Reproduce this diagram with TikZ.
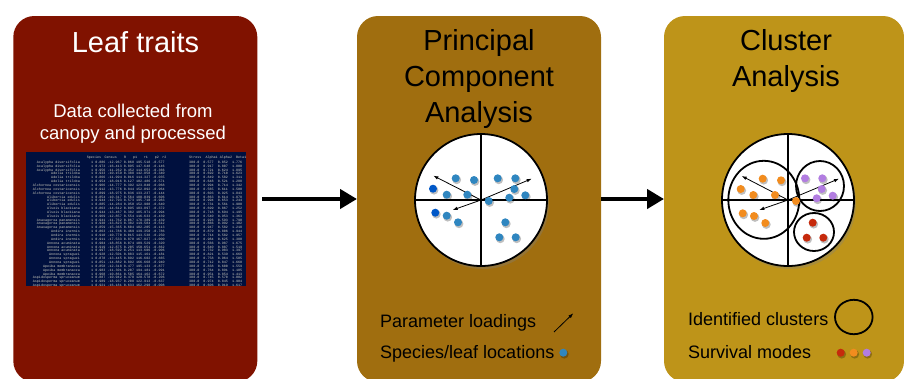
\documentclass[tikz,border=0pt]{standalone}
\usepackage{fontspec}
\setmainfont{Liberation Sans}
\newfontfamily\tabfont{Liberation Mono}
\usetikzlibrary{arrows.meta,shadows}

\definecolor{leafred}{RGB}{128,18,0}
\definecolor{pcabrown}{RGB}{160,110,15}
\definecolor{clustergold}{RGB}{190,148,25}
\definecolor{tablenavy}{RGB}{0,16,62}
\definecolor{tabletext}{RGB}{205,205,190}
\definecolor{ptblue}{RGB}{47,134,192}
\definecolor{ptdark}{RGB}{0,88,200}
\definecolor{ptorange}{RGB}{242,140,30}
\definecolor{ptpurple}{RGB}{178,125,225}
\definecolor{ptred}{RGB}{198,42,12}

\tikzset{
  stage/.style={rectangle, rounded corners=21pt, inner sep=0pt, outer sep=0pt, minimum height=366pt},
  title/.style={font=\fontsize{29}{36}\selectfont, align=center, anchor=base, inner sep=0pt},
  legend/.style={font=\fontsize{18}{22}\selectfont, anchor=base west, inner sep=0pt},
  plot/.style={circle, draw=black, line width=1.8pt, fill=white, minimum size=132pt, inner sep=0pt, outer sep=0pt,
    drop shadow={opacity=0.35, shadow xshift=2pt, shadow yshift=-3pt}},
  axis/.style={line width=1.8pt},
  flow/.style={line width=4.6pt, -{Triangle[length=17pt,width=19pt]}},
  loading/.style={line width=0.8pt, -{Latex[length=5pt,width=3.6pt]}},
  cluster/.style={draw=black, line width=1.8pt},
  tabrow/.style={font=\tabfont\fontsize{3.4}{4}\selectfont, text=tabletext, inner sep=0pt},
}

% dot with a soft shadow
\newcommand{\plotdot}[3]{%
  \fill[black, opacity=0.25] (#1+1,#2+1.5) circle (4.4);
  \fill[#3] (#1,#2) circle (4);}

\begin{document}
\begin{tikzpicture}[x=1pt, y=-1pt]
  \useasboundingbox (0,0) rectangle (904,378);

  % Stages
  \node[stage, fill=leafred, minimum width=244pt] (leaf) at (135.3,199) {};
  \node[stage, fill=pcabrown, minimum width=244pt] (pca) at (479,199) {};
  \node[stage, fill=clustergold, minimum width=240pt] (cluster) at (784,199) {};

  \draw[flow] ([xshift=5pt]leaf.east) -- (pca.west);
  \draw[flow] (pca.east) -- (cluster.west);

  % Leaf traits (base anchor = last line)
  \node[title, text=white] (leaftitle) at (135.5,52) {Leaf traits};
  \node[font=\fontsize{18.5}{22}\selectfont, text=white, align=center, anchor=base, inner sep=0pt]
    (leafnote) at (133,139) {Data collected from\\canopy and processed};

  \fill[tablenavy] (26,152) rectangle (246,286);
  \begin{scope}
    \clip (26,152) rectangle (246,286);
    \pgfkeys{/pgf/number format/.cd, fixed, fixed zerofill, precision=3, assume math mode=true}
    \pgfmathsetseed{42}
    \node[tabrow, anchor=base east] (tabhead) at (117,158) {Species\quad Census};
    \node[tabrow, anchor=base west] (tabcols) at (124,158) {R\qquad p1\qquad r1\qquad p2\quad r2};
    \node[tabrow, anchor=base west] (tabparm) at (189,158) {Stress\ \ Alpha1\ Alpha2\ \ Beta1};
    \foreach \sp [count=\i] in {Acalypha diversifolia, Acalypha diversifolia, Acalypha diversifolia,
        Adelia triloba, Adelia triloba, Adelia triloba,
        Alchornea costaricensis, Alchornea costaricensis, Alchornea costaricensis,
        Alibertia edulis, Alibertia edulis, Alibertia edulis,
        Alseis blackiana, Alseis blackiana, Alseis blackiana,
        Anaxagorea panamensis, Anaxagorea panamensis, Anaxagorea panamensis,
        Andira inermis, Andira inermis, Andira inermis,
        Annona acuminata, Annona acuminata, Annona acuminata,
        Annona spraguei, Annona spraguei, Annona spraguei,
        Apeiba membranacea, Apeiba membranacea, Apeiba membranacea,
        Aspidosperma spruceanum, Aspidosperma spruceanum, Aspidosperma spruceanum} {
      \pgfmathsetmacro\rowy{159.5+3.85*\i}
      \pgfmathsetmacro\va{0.85+0.15*rnd}
      \pgfmathsetmacro\vb{-10-9*rnd}
      \pgfmathsetmacro\vc{rnd}
      \pgfmathsetmacro\vd{100+99*rnd}
      \pgfmathsetmacro\ve{-rnd}
      \pgfmathsetmacro\vf{0.5+0.5*rnd}
      \pgfmathsetmacro\vg{0.5+0.5*rnd}
      \pgfmathsetmacro\vh{1+rnd}
      \node[tabrow, anchor=base east] (sp\i) at (80,\rowy) {\sp};
      \node[tabrow, anchor=base west] (mid\i) at (91,\rowy)
        {1\ \pgfmathprintnumber{\va}\ \pgfmathprintnumber{\vb}\ \pgfmathprintnumber{\vc}\ \pgfmathprintnumber{\vd}\ \pgfmathprintnumber{\ve}};
      \node[tabrow, anchor=base west] (rgt\i) at (189,\rowy)
        {300.0\ \ \pgfmathprintnumber{\vf}\ \ \pgfmathprintnumber{\vg}\ \ \pgfmathprintnumber{\vh}};
    }
  \end{scope}

  % Principal component analysis
  \node[title] (pcatitle) at (479,122) {Principal\\Component\\Analysis};
  \node[plot] (pcaplot) at (481,200) {};
  \draw[axis] (pcaplot.north) -- (pcaplot.south);
  \draw[axis] (pcaplot.west) -- (pcaplot.east);
  \coordinate (pl1) at (433.3,175.7);
  \coordinate (pl2) at (531.7,178.7);
  \coordinate (pl3) at (452.7,210);
  \foreach \c in {pl1,pl2,pl3} \draw[loading] (pcaplot.center) -- (\c);
  \foreach \x/\y in {455.7/178.3, 474/180, 446.7/194.7, 467.3/194.7, 446.7/215.7, 458/222.3,
      497.7/178.3, 515.3/178.3, 514.3/189, 509.3/197.7, 525.3/195.3, 488.7/201,
      505.3/222.3, 499.3/237.3, 515.7/237.3}
    \plotdot{\x}{\y}{ptblue};
  \foreach \x/\y in {433/188.7, 435.3/212.7} \plotdot{\x}{\y}{ptdark};

  \node[legend] (loadkey) at (380,327) {Parameter loadings};
  \coordinate (loadtail) at (554,332);
  \coordinate (loadhead) at (573.3,313.3);
  \draw[loading] (loadtail) -- (loadhead);
  \node[legend] (spotkey) at (380,358) {Species/leaf locations};
  \plotdot{563.3}{352.7}{ptblue};

  % Cluster analysis
  \node[title] (clustertitle) at (786,86) {Cluster\\Analysis};
  \node[plot] (clusterplot) at (788,200) {};
  \draw[axis] (clusterplot.north) -- (clusterplot.south);
  \draw[axis] (clusterplot.west) -- (clusterplot.east);
  \draw[cluster] (763.8,199.8) ellipse [x radius=35.5, y radius=39];
  \draw[cluster] (820,186) ellipse [x radius=24, y radius=25];
  \draw[cluster] (814,232) ellipse [x radius=20, y radius=19];
  \coordinate (cl1) at (741.7,176);
  \coordinate (cl2) at (839,178.7);
  \coordinate (cl3) at (759.3,210);
  \foreach \c in {cl1,cl2,cl3} \draw[loading] (clusterplot.center) -- (\c);
  \foreach \x/\y in {740.7/189, 762.7/178.7, 781/180.3, 753.3/195, 775/195,
      742.7/213.3, 754/216, 765.3/223, 796/201}
    \plotdot{\x}{\y}{ptorange};
  \foreach \x/\y in {805/178.3, 822.3/178.3, 821.7/189, 816.7/198.3, 832.7/195.7}
    \plotdot{\x}{\y}{ptpurple};
  \foreach \x/\y in {812.7/222.7, 806.7/237.7, 823.3/237.7}
    \plotdot{\x}{\y}{ptred};

  \node[legend] (clusterkey) at (688,325) {Identified clusters};
  \draw[cluster] (853.8,317) ellipse [x radius=18.8, y radius=17.2];
  \node[legend] (modekey) at (688,358) {Survival modes};
  \plotdot{840.7}{352.7}{ptred};
  \plotdot{853.7}{352.7}{ptorange};
  \plotdot{866.7}{352.7}{ptpurple};
\end{tikzpicture}
\end{document}
